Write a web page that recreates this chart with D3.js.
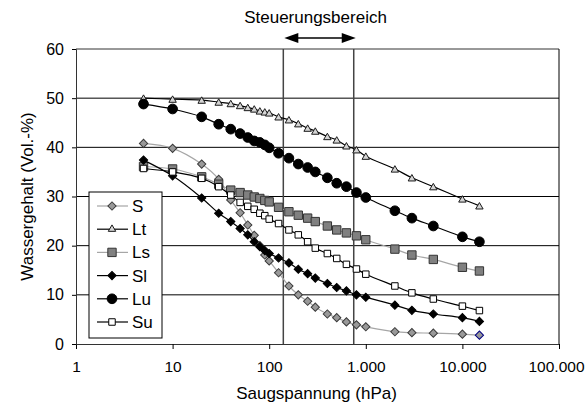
<!DOCTYPE html>
<html>
<head>
<meta charset="utf-8">
<script src="https://cdn.jsdelivr.net/npm/d3@7"></script>
<style>
  body { margin: 0; background: #fff; }
  text { font-family: "Liberation Sans", Arial, sans-serif; fill: #000; }
</style>
</head>
<body>
<div id="chart"></div>
<script>
// suction pressure steps (hPa), shared by all soils
var pressure = [5, 10, 20, 30, 40, 50, 60, 70, 80, 90, 100, 125, 160, 200, 250, 300, 400, 500, 630, 800, 1000, 2000, 3000, 5000, 10000, 15000];

// water content (Vol.-%) per soil
var sValues  = [40.8, 39.8, 36.6, 33.5, 29.3, 26.7, 24.2, 22.1, 20.0, 18.1, 16.9, 14.5, 11.8, 10.0, 8.7, 7.5, 6.1, 5.35, 4.5, 3.9, 3.5, 2.5, 2.3, 2.2, 2.0, 1.8];
var ltValues = [50.0, 49.8, 49.6, 49.2, 48.9, 48.5, 48.1, 47.8, 47.4, 47.2, 47.0, 46.2, 45.6, 44.8, 43.9, 43.3, 42.2, 41.5, 40.3, 39.5, 38.2, 35.6, 33.8, 32.0, 29.5, 28.1];
var lsValues = [36.1, 35.6, 34.0, 32.5, 31.3, 30.8, 30.3, 29.9, 29.6, 29.2, 28.9, 27.8, 26.9, 26.2, 25.6, 24.9, 24.0, 23.2, 22.6, 22.0, 21.2, 19.3, 18.1, 17.2, 15.6, 14.85];
var slValues = [37.4, 34.2, 29.7, 26.6, 24.9, 23.5, 22.2, 20.8, 19.8, 19.0, 18.4, 17.5, 16.5, 15.2, 14.3, 13.4, 12.3, 11.5, 10.8, 10.0, 9.5, 7.9, 6.85, 6.1, 5.35, 4.6];
var luValues = [48.8, 47.8, 46.2, 44.7, 43.7, 42.8, 42.0, 41.3, 41.0, 40.5, 39.9, 38.8, 37.8, 36.6, 35.9, 35.0, 33.8, 32.7, 32.0, 30.8, 29.8, 27.1, 25.6, 24.0, 21.8, 20.8];
var suValues = [35.7, 35.0, 33.7, 32.0, 30.3, 28.8, 28.0, 27.4, 26.6, 26.1, 25.4, 24.5, 23.2, 22.2, 20.8, 19.5, 18.4, 17.4, 16.2, 15.25, 14.2, 11.8, 10.4, 9.15, 7.7, 6.8];

var soilNames = ["S", "Lt", "Ls", "Sl", "Lu", "Su"];
var yTicks = [0, 10, 20, 30, 40, 50, 60];
var xTicks = [1, 10, 100, 1000, 10000, 100000];
// bounds of the control range (hPa)
var controlRange = [140, 750];

var series = [
  {name: "S",  values: sValues,  shape: "diamond",  size: 34, fill: "#999999", stroke: "#3a3a3a", line: "#a6a6a6"},
  {name: "Lt", values: ltValues, shape: "triangle", size: 24, fill: "#d4d4d4", stroke: "#1a1a1a", line: "#000"},
  {name: "Ls", values: lsValues, shape: "square",   size: 70, fill: "#808080", stroke: "#333",    line: "#a6a6a6"},
  {name: "Sl", values: slValues, shape: "diamond",  size: 34, fill: "#000",    stroke: "#000",    line: "#000"},
  {name: "Lu", values: luValues, shape: "circle",   size: 74, fill: "#000",    stroke: "#000",    line: "#000"},
  {name: "Su", values: suValues, shape: "square",   size: 42, fill: "#fff",    stroke: "#000",    line: "#000"}
];

var margin = {top: 49, right: 26, bottom: 73, left: 76},
    width = 585 - margin.left - margin.right,
    height = 417 - margin.top - margin.bottom;

var svg = d3.select("#chart")
  .append("svg")
    .attr("width", 585)
    .attr("height", 417)
  .append("g")
    .attr("transform", "translate(" + margin.left + "," + margin.top + ")");

var x = d3.scaleLog()
  .domain([1, 100000])
  .range([0, width]);

var y = d3.scaleLinear()
  .domain([0, 60])
  .range([height, 0]);

var de = d3.formatLocale({decimal: ",", thousands: ".", grouping: [3], currency: ["", " €"]});
var fmt = de.format(",");

// horizontal grid lines
svg.selectAll(".grid")
  .data(yTicks.slice(1))
  .enter()
  .append("line")
    .attr("x1", 0)
    .attr("x2", width)
    .attr("y1", d => y(d))
    .attr("y2", d => y(d))
    .attr("stroke", d => d == 60 ? "#333" : "#000")
    .attr("stroke-width", 1);

// right border
svg.append("line")
  .attr("x1", width).attr("x2", width)
  .attr("y1", 0).attr("y2", height)
  .attr("stroke", "#000");

// control range lines
svg.selectAll(".range")
  .data(controlRange)
  .enter()
  .append("line")
    .attr("x1", d => x(d))
    .attr("x2", d => x(d))
    .attr("y1", 0)
    .attr("y2", height)
    .attr("stroke", "#444")
    .attr("stroke-width", 1.5);

// X axis
var xAxis = svg.append("g")
  .attr("transform", "translate(0," + height + ")")
  .call(d3.axisBottom(x).tickValues(xTicks).tickFormat(fmt).tickSizeOuter(0).tickSize(5).tickPadding(12));
xAxis.selectAll("text").style("font-size", "15.5px");
xAxis.selectAll(".tick:last-child text").attr("dx", -3);
xAxis.select(".domain").attr("stroke", "#333");

// Y axis
var yAxis = svg.append("g")
  .call(d3.axisLeft(y).tickValues(yTicks).tickSizeOuter(0).tickSize(4).tickPadding(8));
yAxis.selectAll("text").style("font-size", "16px");
yAxis.select(".domain").attr("stroke", "#333");

var line = d3.line()
  .x(d => x(d[0]))
  .y(d => y(d[1]))
  .curve(d3.curveCatmullRom);

function symbolPath(s) {
  var type = {diamond: d3.symbolSquare, triangle: d3.symbolTriangle, square: d3.symbolSquare, circle: d3.symbolCircle}[s.shape];
  return d3.symbol().type(type).size(s.size)();
}

series.forEach(function(s) {
  var pts = pressure.map((p, i) => [p, s.values[i]]);
  svg.append("path")
    .datum(pts)
    .attr("fill", "none")
    .attr("stroke", s.line)
    .attr("stroke-width", 1.2)
    .attr("d", line);

  svg.selectAll(".m" + s.name)
    .data(pts)
    .enter()
    .append("path")
      .attr("d", symbolPath(s))
      .attr("transform", d => "translate(" + x(d[0]) + "," + y(d[1]) + ")" + (s.shape == "diamond" ? " rotate(45)" : "") + (s.shape == "triangle" ? " translate(0,1)" : ""))
      .attr("fill", s.fill)
      .attr("stroke", (d, i) => (s.name == "S" && i == pts.length - 1) ? "#000080" : s.stroke)
      .attr("stroke-width", 1);
});

// legend
var legend = svg.append("g")
  .attr("transform", "translate(" + (89 - margin.left) + "," + (192 - margin.top) + ")");
legend.append("rect")
  .attr("width", 73)
  .attr("height", 146)
  .attr("fill", "#fff")
  .attr("stroke", "#000");

series.forEach(function(s, i) {
  var row = legend.append("g").attr("transform", "translate(0," + (14 + i * 23.2) + ")");
  row.append("line")
    .attr("x1", 8).attr("x2", 39)
    .attr("stroke", s.line)
    .attr("stroke-width", 1.2);
  row.append("path")
    .attr("d", symbolPath(s))
    .attr("transform", "translate(23,0)" + (s.shape == "diamond" ? " rotate(45)" : ""))
    .attr("fill", s.fill)
    .attr("stroke", s.stroke);
  row.append("text")
    .attr("x", 43)
    .attr("dy", "0.35em")
    .style("font-size", "17px")
    .text(soilNames[i]);
});

// control range label and arrow
var mid = (x(controlRange[0]) + x(controlRange[1])) / 2;
svg.append("text")
  .attr("x", mid - 3)
  .attr("y", -26)
  .style("text-anchor", "middle")
  .style("font-size", "17px")
  .text("Steuerungsbereich");

var ay = -11;
svg.append("line")
  .attr("x1", x(controlRange[0]) + 8).attr("x2", x(controlRange[1]) - 6)
  .attr("y1", ay).attr("y2", ay)
  .attr("stroke", "#000").attr("stroke-width", 1.5);
svg.append("path")
  .attr("d", "M" + (x(controlRange[0]) + 1) + "," + ay + "l14,-5l0,10z")
  .attr("fill", "#000");
svg.append("path")
  .attr("d", "M" + (x(controlRange[1]) + 2) + "," + ay + "l-14,-5l0,10z")
  .attr("fill", "#000");

// text label for the y axis
svg.append("text")
  .attr("transform", "rotate(-90)")
  .attr("y", 27 - margin.left)
  .attr("x", -height / 2)
  .attr("dy", "0.35em")
  .style("text-anchor", "middle")
  .style("font-size", "17px")
  .text("Wassergehalt (Vol.-%)");

// text label for the x axis
svg.append("text")
  .attr("x", width / 2 - 1)
  .attr("y", height + 55)
  .style("text-anchor", "middle")
  .style("font-size", "17px")
  .text("Saugspannung (hPa)");
</script>
</body>
</html>
